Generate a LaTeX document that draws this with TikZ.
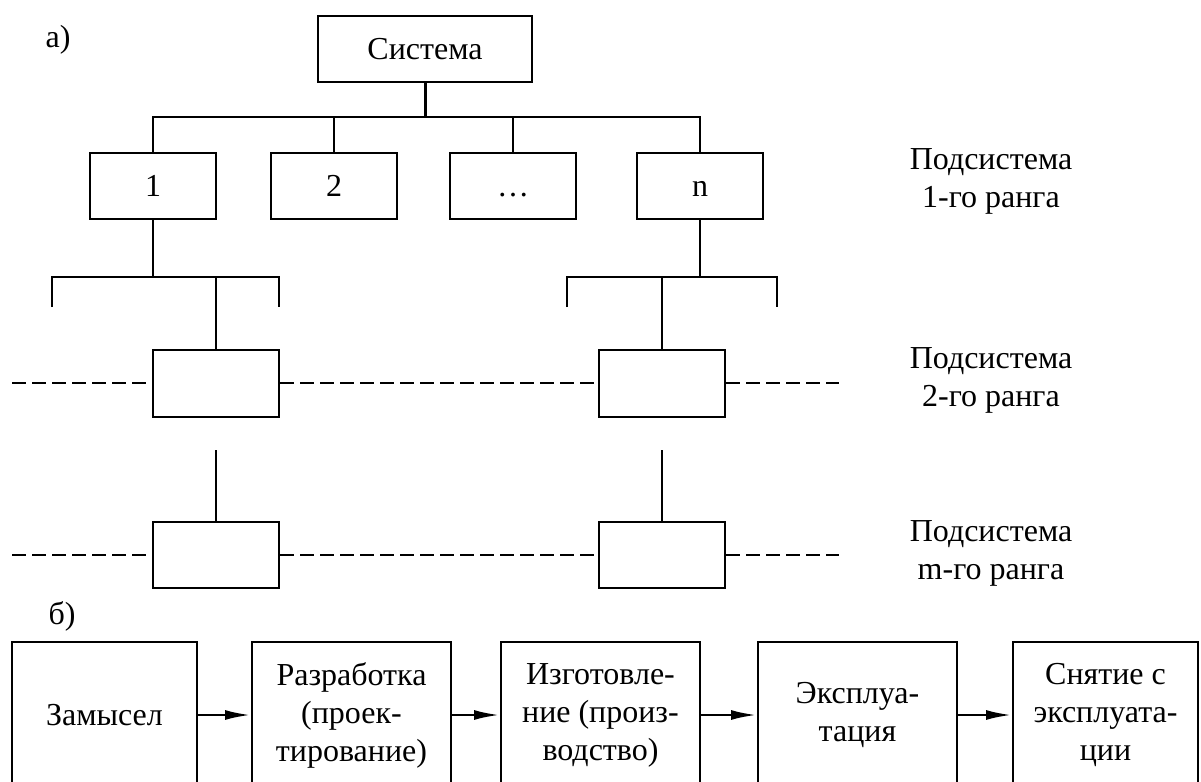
\documentclass[tikz,border=0pt]{standalone}
\usepackage{fontspec}
\setmainfont{Liberation Serif}
\usetikzlibrary{arrows.meta}

\begin{document}
\begin{tikzpicture}[x=0.5pt,y=-0.5pt,line width=1pt,font=\fontsize{16}{19}\selectfont]
\tikzstyle{box} = [draw, rectangle, minimum width=63pt, minimum height=33pt, inner sep=0pt, text height=12pt, text depth=2pt]
\tikzstyle{stage} = [draw, rectangle, minimum height=73pt, align=center, inner sep=0pt]
\tikzstyle{rank} = [align=center]
\tikzstyle{trail} = [dash pattern=on 7pt off 3pt]
\tikzstyle{flow} = [line width=1.4pt, -{Latex[length=13pt,width=5pt]}]

\useasboundingbox (0,0) rectangle (1201,782);

% --- а) иерархия ------------------------------------------------
\node (capA) at (58,40) {а)};
\node[box, minimum width=107pt] (sys) at (425,49) {Система};
\coordinate (bus) at (425,117);
\draw[line width=1.5pt] (sys) -- (bus);

% подсистемы 1-го ранга
\foreach \name/\x/\t in {r1/153/1, r2/334/2, r3/513/\ldots, rn/700/n} {
  \node[box] (\name) at (\x,186) {\t};
}
\draw (r1.north) |- (bus) -| (rn.north);
\foreach \name in {r2,r3} {
  \draw (\name.north) -- (\name.north |- bus);
}

% подсистемы 2-го и m-го ранга
\node[box, minimum height=33.5pt] (a2) at (216,383) {};
\node[box, minimum height=33.5pt] (b2) at (662,383) {};
\node[box] (am) at (216,555) {};
\node[box] (bm) at (662,555) {};

% вилки
\coordinate (la) at (52,307);
\coordinate (lb) at (279,307);
\coordinate (ra) at (567,307);
\coordinate (rb) at (777,307);
\coordinate (lfork) at (153,277);
\coordinate (rfork) at (700,277);
\draw (r1) -- (lfork);
\draw (rn) -- (rfork);
\draw (la) -- (la |- lfork) -- (lb |- lfork) -- (lb);
\draw (ra) -- (ra |- rfork) -- (rb |- rfork) -- (rb);
\draw (a2.north |- lfork) -- (a2.north);
\draw (b2.north |- rfork) -- (b2.north);

% обрывы над m-м рангом
\coordinate (atop) at (216,450);
\coordinate (btop) at (662,450);
\draw (atop) -- (am.north);
\draw (btop) -- (bm.north);

% пунктир
\coordinate (d2l) at (12,383);
\coordinate (d2r) at (839,383);
\coordinate (dml) at (12,555);
\coordinate (dmr) at (839,555);
\draw[trail] (d2l) -- (a2.west);
\draw[trail] (a2.east) -- (b2.west);
\draw[trail] (b2.east) -- (d2r);
\draw[trail] (dml) -- (am.west);
\draw[trail] (am.east) -- (bm.west);
\draw[trail] (bm.east) -- (dmr);

% подписи рангов
\node[rank] (l1) at (991,181) {Подсистема\\1-го ранга};
\node[rank] (l2) at (991,380) {Подсистема\\2-го ранга};
\node[rank] (lm) at (991,553) {Подсистема\\m-го ранга};

% --- б) жизненный цикл -------------------------------------------
\node (capB) at (62,616) {б)};
\node[stage, minimum width=92.5pt] (s1) at (104.5,715) {Замысел};
\node[stage, minimum width=99.5pt] (s2) at (351.5,715) {Разработка\\(проек-\\тирование)};
\node[stage, minimum width=99.5pt] (s3) at (600.5,715) {Изготовле-\\ние (произ-\\водство)};
\node[stage, minimum width=99.5pt] (s4) at (857.5,715) {Эксплуа-\\тация};
\node[stage, minimum width=92.5pt] (s5) at (1105.5,715) {Снятие с\\эксплуата-\\ции};
\foreach \a/\b in {s1/s2, s2/s3, s3/s4, s4/s5} {
  \draw[flow] (\a) -- (\b);
}

\end{tikzpicture}
\end{document}
